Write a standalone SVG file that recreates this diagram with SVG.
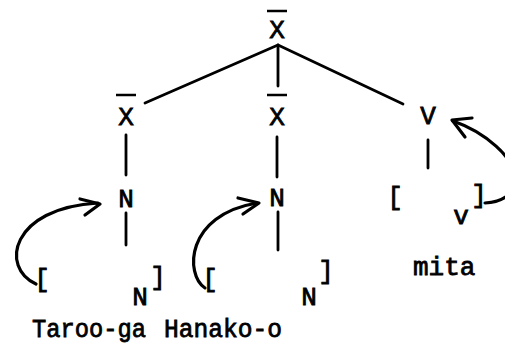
<svg xmlns="http://www.w3.org/2000/svg" width="505" height="348" viewBox="0 0 505 348">
<style>
text{font-family:"Liberation Mono","Courier New",monospace;font-size:26px;fill:#000;stroke:#000;stroke-width:0.8}
.c{text-anchor:middle}
.b{stroke:#000;stroke-width:2.5;fill:none}
.e{stroke:#000;stroke-width:2.8;fill:none;stroke-linecap:round}
.a{stroke:#000;stroke-width:3.2;fill:none;stroke-linecap:round;stroke-linejoin:round}
</style>
<rect width="505" height="348" fill="#fff"/>
<g id="node-top-xbar"><line class="b" x1="267" y1="11" x2="287" y2="11"/><text class="c" x="277" y="38">X</text></g>
<g id="node-left-xbar"><line class="b" x1="116" y1="95" x2="136" y2="95"/><text class="c" x="126" y="125">X</text></g>
<g id="node-mid-xbar"><line class="b" x1="267" y1="95" x2="287" y2="95"/><text class="c" x="277" y="125">X</text></g>
<g id="node-v"><text class="c" x="428" y="124">V</text></g>
<g id="node-left-n"><text class="c" x="126" y="207">N</text></g>
<g id="node-mid-n"><text class="c" x="277" y="206">N</text></g>
<g id="node-right-bracket"><text class="c" x="395" y="205">[</text><text class="c" x="461" y="224">v</text><text class="c" x="479" y="203">]</text><text x="413" y="275">mita</text></g>
<g id="node-left-bracket"><text class="c" x="42" y="287">[</text><text class="c" x="140" y="305">N</text><text class="c" x="158" y="285">]</text><text x="32" y="337" textLength="114" lengthAdjust="spacingAndGlyphs">Taroo-ga</text></g>
<g id="node-mid-bracket"><text class="c" x="210" y="287">[</text><text class="c" x="309" y="305">N</text><text class="c" x="326" y="279">]</text><text x="164" y="337" textLength="118" lengthAdjust="spacingAndGlyphs">Hanako-o</text></g>
<g id="connectors">
<line class="e" x1="278" y1="45" x2="145" y2="103"/>
<line class="e" x1="278" y1="46" x2="278" y2="86"/>
<line class="e" x1="278" y1="45" x2="403" y2="104"/>
<line class="e" x1="126" y1="135" x2="126" y2="175"/>
<line class="e" x1="126" y1="213" x2="126" y2="245"/>
<line class="e" x1="277" y1="137" x2="277" y2="177"/>
<line class="e" x1="278" y1="212" x2="278" y2="250"/>
<line class="e" x1="428" y1="140" x2="428" y2="168"/>
<path class="a" d="M36,284 C0,268 10,208 98,203"/>
<path class="a" d="M80,199 L100,204 L85,215"/>
<path class="a" d="M205,288 C185,275 185,215 257,203"/>
<path class="a" d="M238,198 L259,203 L243,214"/>
<path class="a" d="M485,203 C500,202 515,196 515,178 C515,158 485,132 453,121"/>
<path class="a" d="M472,118 L452,120 L465,137"/>
</g>
</svg>
